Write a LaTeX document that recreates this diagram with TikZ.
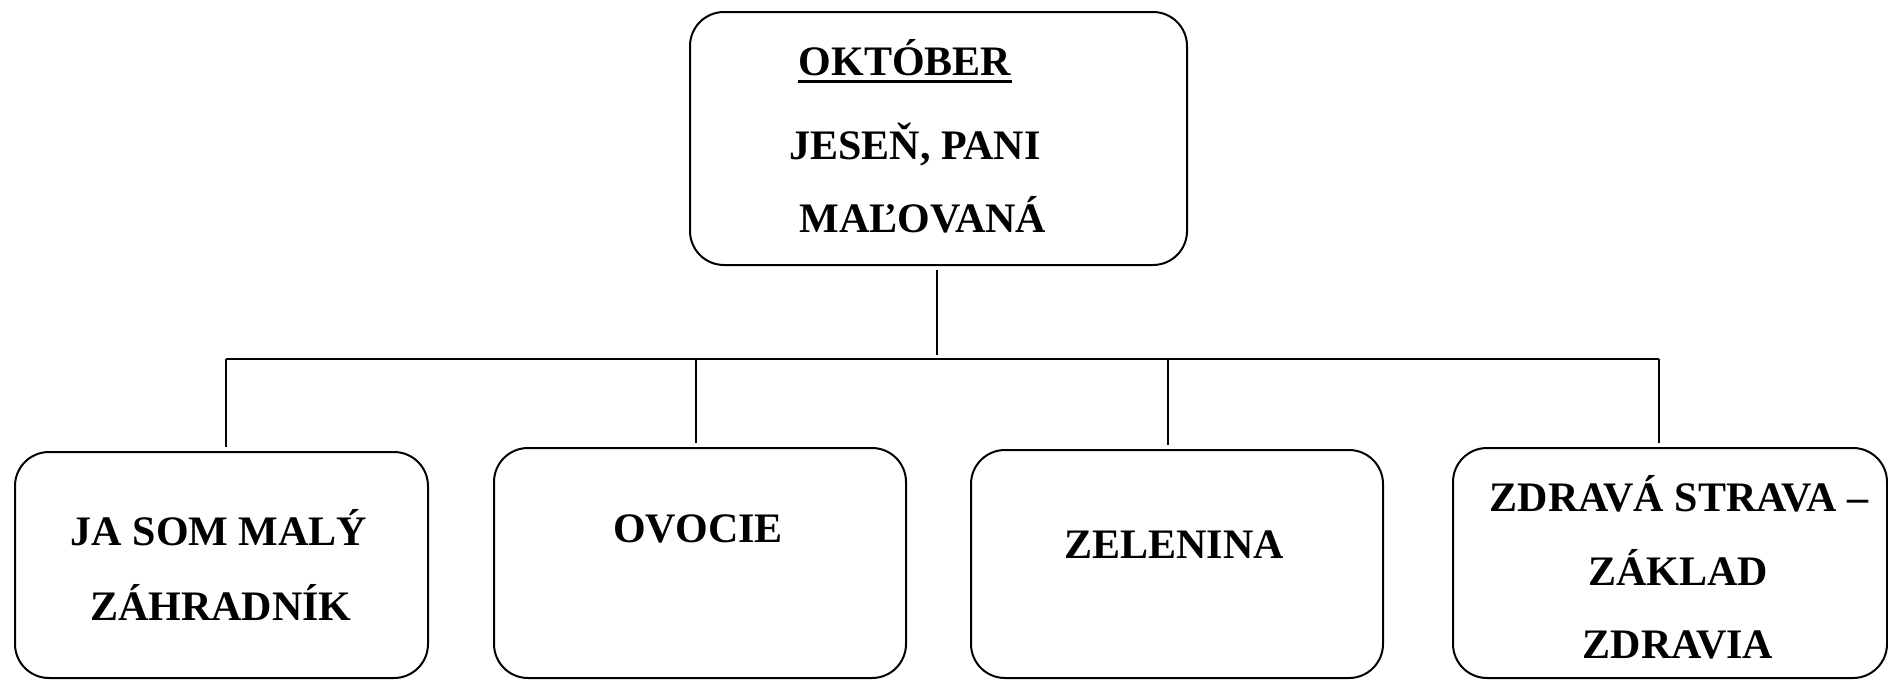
\documentclass[tikz,border=0pt]{standalone}
\usepackage{fontspec}
\setmainfont{Liberation Serif}

\tikzset{
  box/.style={draw, rounded corners=17pt, line width=1pt, inner sep=0pt},
  lbl/.style={anchor=base, inner sep=0pt, font=\fontsize{21}{25}\selectfont\bfseries},
  conn/.style={line width=0.8pt}
}

\begin{document}
\begin{tikzpicture}[x=0.5pt,y=-0.5pt]
 \useasboundingbox (0,0) rectangle (1888,680);
 % boxes
 \node[box, minimum width=248.5pt, minimum height=126.5pt] (top) at (938.5,138.5) {};
 \node[box, minimum width=206.5pt, minimum height=113pt] (b1) at (221.5,565) {};
 \node[box, minimum width=206pt, minimum height=115pt] (b2) at (700,563) {};
 \node[box, minimum width=206pt, minimum height=114pt] (b3) at (1177,564) {};
 \node[box, minimum width=217pt, minimum height=115pt] (b4) at (1670,563) {};
 % texts
 \node[lbl] (okt) at (905,75) {OKTÓBER};
 \draw[line width=1.5pt] ([yshift=-3pt]okt.base west) -- ([yshift=-3pt]okt.base east);
 \node[lbl] (jes) at (915,159) {JESEŇ, PANI};
 \node[lbl] (mal) at (923,232) {MAĽOVANÁ};
 \node[lbl] (ja) at (219,545) {JA SOM MALÝ};
 \node[lbl] (zah) at (221,620) {ZÁHRADNÍK};
 \node[lbl] (ovo) at (698,542) {OVOCIE};
 \node[lbl] (zel) at (1174,558) {ZELENINA};
 \node[lbl] (zdr) at (1679,511) {ZDRAVÁ STRAVA –};
 \node[lbl] (zak) at (1678,585) {ZÁKLAD};
 \node[lbl] (zdv) at (1678,658) {ZDRAVIA};
 % connectors
 \coordinate (hub) at (937,355);
 \coordinate (d1) at (226,359);
 \coordinate (d2) at (696,359);
 \coordinate (d3) at (1168,359);
 \coordinate (d4) at (1659,359);
 \draw[conn, shorten <=2pt] (top.south -| hub) -- (hub);
 \draw[conn] (d1) -- (d4);
 \draw[conn, shorten >=2pt] (d1) -- (d1 |- b1.north);
 \draw[conn, shorten >=2pt] (d2) -- (d2 |- b2.north);
 \draw[conn, shorten >=2pt] (d3) -- (d3 |- b3.north);
 \draw[conn, shorten >=2pt] (d4) -- (d4 |- b4.north);
\end{tikzpicture}
\end{document}
